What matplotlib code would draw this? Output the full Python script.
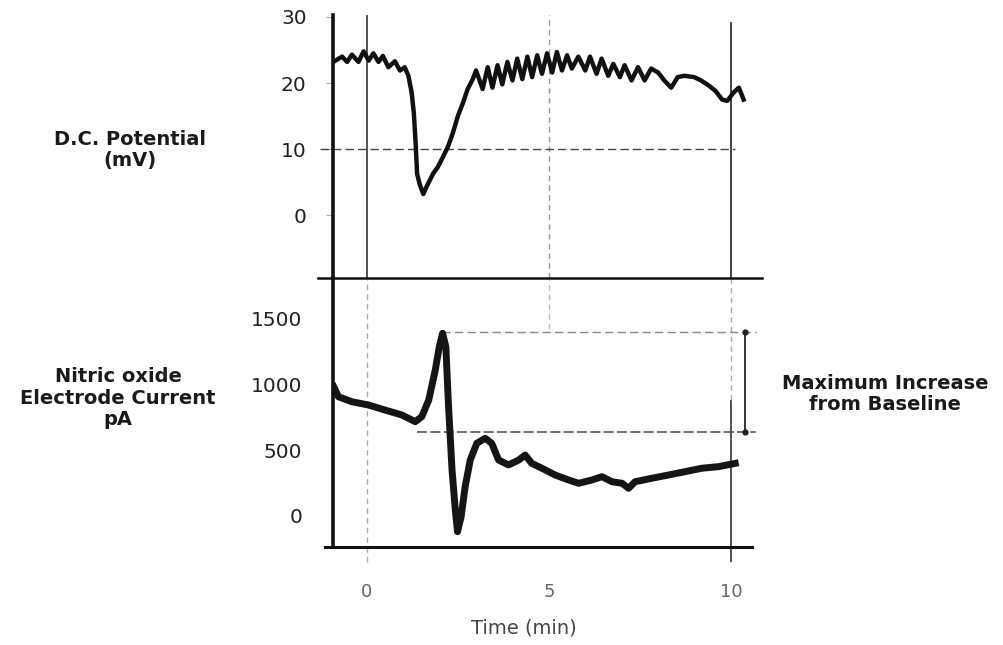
import matplotlib
matplotlib.use("Agg")
import matplotlib.pyplot as plt
from matplotlib.lines import Line2D

# D.C. potential trace (min, mV)
dc_time = [-0.86, -0.68, -0.54, -0.41, -0.23, -0.09, 0.05, 0.18, 0.32, 0.44,
           0.59, 0.77, 0.91, 1.04, 1.14, 1.23, 1.29, 1.34, 1.38, 1.45,
           1.55, 1.63, 1.72, 1.82, 1.95, 2.09, 2.23, 2.36, 2.50, 2.64,
           2.77, 2.91, 3.00, 3.18, 3.32, 3.45, 3.59, 3.72, 3.86, 4.00,
           4.13, 4.27, 4.41, 4.54, 4.68, 4.81, 4.95, 5.09, 5.22, 5.36,
           5.50, 5.63, 5.81, 6.00, 6.13, 6.31, 6.45, 6.63, 6.77, 6.95,
           7.08, 7.27, 7.45, 7.63, 7.81, 8.00, 8.17, 8.36, 8.54, 8.72,
           8.99, 9.18, 9.40, 9.58, 9.76, 9.90, 10.08, 10.22, 10.35]
dc_mv = [23.4, 24.0, 23.2, 24.3, 23.2, 24.8, 23.4, 24.5, 23.2, 24.1,
         22.4, 23.3, 21.9, 22.4, 21.1, 18.6, 15.5, 10.9, 6.3, 4.7,
         3.2, 4.2, 5.2, 6.3, 7.3, 8.8, 10.4, 12.4, 15.0, 17.0,
         19.1, 20.6, 21.9, 19.1, 22.4, 19.3, 22.7, 19.8, 23.2, 20.4,
         23.7, 20.6, 24.0, 20.9, 24.2, 21.4, 24.5, 21.6, 24.7, 21.9,
         24.2, 22.2, 24.0, 21.9, 24.0, 21.4, 23.7, 21.1, 22.9, 20.9,
         22.7, 20.4, 22.4, 20.4, 22.2, 21.6, 20.4, 19.3, 20.9, 21.1,
         20.9, 20.4, 19.6, 18.8, 17.5, 17.3, 18.6, 19.3, 17.5]

# nitric oxide electrode current (min, pA)
no_time = [-0.91, -0.78, -0.41, 0.05, 0.50, 0.96, 1.33, 1.51, 1.70, 1.88,
           1.99, 2.08, 2.17, 2.24, 2.34, 2.43, 2.49, 2.59, 2.70, 2.84,
           3.02, 3.25, 3.43, 3.62, 3.89, 4.17, 4.35, 4.53, 4.81, 5.17,
           5.54, 5.82, 6.18, 6.46, 6.73, 7.01, 7.19, 7.37, 7.83, 8.29,
           8.74, 9.20, 9.66, 10.12]
no_pa = [980, 904, 866, 841, 803, 766, 715, 753, 879, 1107,
         1283, 1385, 1283, 854, 349, 45, -119, -5, 222, 424,
         551, 589, 551, 424, 387, 424, 462, 399, 362, 311,
         273, 248, 273, 298, 260, 248, 210, 260, 286, 311,
         336, 362, 374, 399]

peak_level = 1395
baseline_level = 637

W, H = 1004, 645
fig = plt.figure(figsize=(W / 100, H / 100), dpi=100)

def fx(px):
    return px / W

def fy(py):
    return 1 - py / H

ax1 = fig.add_axes([fx(333), fy(278), 427 / W, 263 / H])
ax2 = fig.add_axes([fx(333), fy(547), 427 / W, 269 / H])

for ax in (ax1, ax2):
    ax.set_xlim(-0.93, 10.8)
    for s in ("top", "right", "bottom"):
        ax.spines[s].set_visible(False)
    ax.spines["left"].set_linewidth(2.6)
    ax.spines["left"].set_color("#111")
    ax.patch.set_alpha(0)

# top panel
ax1.set_ylim(-9.5, 30.3)
ax1.axvline(0, color="#333", lw=1.2)
ax1.axvline(5, color="#999", lw=1, ls=(0, (4, 3)))
ax1.axvline(10, color="#333", lw=1.3, ymax=0.97)
ax1.hlines(10, -1.3, 10.1, color="#444", lw=1, ls=(0, (6, 3)), clip_on=False)
ax1.plot(dc_time, dc_mv, color="#111", lw=3.2, solid_joinstyle="round")
ax1.set_xticks([])
ax1.set_yticks([0, 10, 20, 30])
ax1.tick_params(axis="y", length=5, width=0.8, color="#aaa", pad=14,
                labelsize=14.5, labelcolor="#222")

# bottom panel
ax2.set_ylim(-235, 1804)
ax2.vlines(0, -350, 1804, color="#aaa", lw=1, ls=(0, (4, 3)), clip_on=False)
ax2.vlines(5, 1420, 1804, color="#bbb", lw=1, ls=(0, (4, 3)))
ax2.vlines(10, -350, 880, color="#444", lw=1.3, clip_on=False)
ax2.vlines(10, 880, 1804, color="#aaa", lw=1, ls=(0, (4, 3)))
ax2.hlines(peak_level, 2.06, 10.7, color="#888", lw=1, ls=(0, (6, 3)))
ax2.hlines(baseline_level, 1.37, 10.7, color="#555", lw=1.2, ls=(0, (6, 2)))
ax2.plot(no_time, no_pa, color="#151515", lw=5, solid_joinstyle="round")
ax2.vlines(10.38, baseline_level, peak_level, color="#333", lw=1.4)
ax2.plot([10.38, 10.38], [baseline_level, peak_level], "o", color="#222", ms=3.5)
ax2.set_yticks([0, 500, 1000, 1500])
ax2.tick_params(axis="y", length=0, pad=22, labelsize=14.5, labelcolor="#222")
ax2.set_xticks([0, 5, 10])
ax2.tick_params(axis="x", length=0, pad=26, labelsize=13, labelcolor="#666")

# separator and bottom axis line
fig.add_artist(Line2D([fx(318), fx(762)], [fy(278), fy(278)], color="#111", lw=1.8))
fig.add_artist(Line2D([fx(325), fx(752)], [fy(547), fy(547)], color="#111", lw=2.2))

fig.text(fx(524), fy(628), "Time (min)", ha="center", va="center", fontsize=14, color="#444")
fig.text(fx(130), fy(150), "D.C. Potential\n(mV)", ha="center", va="center",
         fontsize=14, fontweight="bold", color="#1a1a1a", linespacing=1.15)
fig.text(fx(118), fy(398), "Nitric oxide\nElectrode Current\npA", ha="center", va="center",
         fontsize=14, fontweight="bold", color="#1a1a1a", linespacing=1.15)
fig.text(fx(885), fy(394), "Maximum Increase\nfrom Baseline", ha="center", va="center",
         fontsize=14, fontweight="bold", color="#1a1a1a", linespacing=1.15)

fig.savefig("out.png", dpi=100)
